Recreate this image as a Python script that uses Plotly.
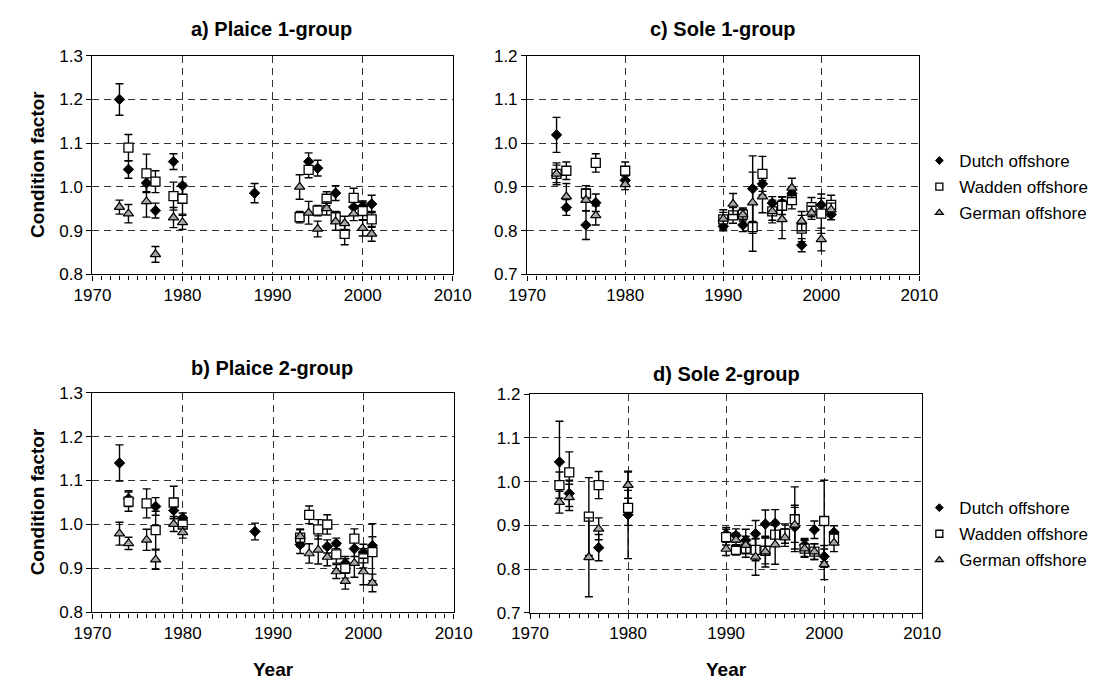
import plotly.graph_objects as go

# ---------------- data ----------------
SERIES = ["Dutch offshore", "Wadden offshore", "German offshore"]
X_TICKS = [1970, 1980, 1990, 2000, 2010]

# a) Plaice 1-group
a_dutch_years = [1973, 1974, 1976, 1977, 1979, 1980, 1988, 1994, 1995, 1997, 1999, 2000, 2001]
a_dutch_vals = [1.200, 1.040, 1.009, 0.946, 1.058, 1.003, 0.986, 1.058, 1.043, 0.986, 0.954, 0.956, 0.961]
a_dutch_err = [0.036, 0.020, 0.020, 0.017, 0.018, 0.020, 0.022, 0.020, 0.018, 0.017, 0.015, 0.012, 0.020]
a_wadden_years = [1974, 1976, 1977, 1979, 1980, 1993, 1994, 1995, 1996, 1997, 1998, 1999, 2000, 2001]
a_wadden_vals = [1.090, 1.031, 1.012, 0.979, 0.973, 0.931, 1.039, 0.946, 0.973, 0.932, 0.893, 0.975, 0.945, 0.926]
a_wadden_err = [0.030, 0.044, 0.025, 0.032, 0.035, 0.013, 0.018, 0.012, 0.016, 0.012, 0.025, 0.022, 0.020, 0.018]
a_german_years = [1973, 1974, 1976, 1977, 1979, 1980, 1993, 1994, 1995, 1996, 1997, 1998, 1999, 2000, 2001]
a_german_vals = [0.954, 0.939, 0.967, 0.846, 0.930, 0.919, 1.000, 0.941, 0.904, 0.951, 0.921, 0.917, 0.939, 0.906, 0.893]
a_german_err = [0.016, 0.021, 0.036, 0.018, 0.023, 0.016, 0.028, 0.026, 0.018, 0.015, 0.020, 0.016, 0.016, 0.018, 0.017]

# c) Sole 1-group
c_dutch_years = [1973, 1974, 1976, 1977, 1980, 1990, 1992, 1993, 1994, 1995, 1996, 1997, 1998, 2000, 2001]
c_dutch_vals = [1.019, 0.853, 0.813, 0.864, 0.915, 0.810, 0.813, 0.896, 0.907, 0.863, 0.863, 0.885, 0.767, 0.859, 0.837]
c_dutch_err = [0.040, 0.018, 0.033, 0.020, 0.010, 0.010, 0.015, 0.075, 0.025, 0.015, 0.015, 0.015, 0.015, 0.015, 0.012]
c_wadden_years = [1973, 1974, 1976, 1977, 1980, 1990, 1991, 1992, 1993, 1994, 1995, 1996, 1997, 1998, 1999, 2000, 2001]
c_wadden_vals = [0.930, 0.937, 0.885, 0.955, 0.937, 0.826, 0.835, 0.837, 0.808, 0.930, 0.844, 0.857, 0.870, 0.805, 0.854, 0.839, 0.859]
c_wadden_err = [0.025, 0.020, 0.018, 0.021, 0.020, 0.022, 0.018, 0.012, 0.055, 0.040, 0.020, 0.020, 0.020, 0.030, 0.022, 0.045, 0.022]
c_german_years = [1973, 1974, 1976, 1977, 1980, 1990, 1991, 1992, 1993, 1994, 1995, 1996, 1997, 1998, 1999, 2000, 2001]
c_german_vals = [0.930, 0.878, 0.870, 0.835, 0.906, 0.827, 0.861, 0.837, 0.864, 0.878, 0.844, 0.826, 0.898, 0.822, 0.841, 0.780, 0.848]
c_german_err = [0.020, 0.030, 0.025, 0.022, 0.012, 0.015, 0.024, 0.015, 0.070, 0.037, 0.026, 0.044, 0.022, 0.022, 0.015, 0.026, 0.015]

# b) Plaice 2-group
b_dutch_years = [1973, 1974, 1977, 1979, 1980, 1988, 1993, 1996, 1997, 1998, 1999, 2000, 2001]
b_dutch_vals = [1.140, 1.059, 1.041, 1.032, 1.015, 0.984, 0.954, 0.950, 0.957, 0.912, 0.945, 0.937, 0.952]
b_dutch_err = [0.041, 0.018, 0.020, 0.018, 0.011, 0.019, 0.020, 0.015, 0.012, 0.015, 0.018, 0.018, 0.020]
b_wadden_years = [1974, 1976, 1977, 1979, 1980, 1993, 1994, 1995, 1996, 1997, 1998, 1999, 2000, 2001]
b_wadden_vals = [1.052, 1.048, 0.987, 1.050, 1.000, 0.970, 1.022, 0.989, 1.000, 0.932, 0.900, 0.968, 0.923, 0.937]
b_wadden_err = [0.022, 0.033, 0.043, 0.037, 0.018, 0.020, 0.020, 0.022, 0.022, 0.020, 0.022, 0.022, 0.022, 0.065]
b_german_years = [1973, 1974, 1976, 1977, 1979, 1980, 1993, 1994, 1995, 1996, 1997, 1998, 1999, 2000, 2001]
b_german_vals = [0.979, 0.957, 0.965, 0.920, 1.001, 0.982, 0.973, 0.934, 0.942, 0.926, 0.893, 0.871, 0.912, 0.893, 0.867]
b_german_err = [0.026, 0.014, 0.024, 0.022, 0.017, 0.013, 0.015, 0.022, 0.032, 0.020, 0.016, 0.018, 0.032, 0.030, 0.020]

# d) Sole 2-group
d_dutch_years = [1973, 1974, 1977, 1980, 1990, 1991, 1992, 1993, 1994, 1995, 1997, 1998, 1999, 2000, 2001]
d_dutch_vals = [1.045, 0.973, 0.849, 0.924, 0.880, 0.877, 0.866, 0.881, 0.903, 0.905, 0.896, 0.855, 0.890, 0.829, 0.884]
d_dutch_err = [0.093, 0.030, 0.030, 0.100, 0.015, 0.015, 0.025, 0.030, 0.032, 0.031, 0.050, 0.015, 0.020, 0.025, 0.015]
d_wadden_years = [1973, 1974, 1976, 1977, 1980, 1990, 1991, 1992, 1993, 1994, 1995, 1996, 1997, 1998, 1999, 2000, 2001]
d_wadden_vals = [0.992, 1.021, 0.920, 0.992, 0.940, 0.873, 0.844, 0.847, 0.844, 0.842, 0.879, 0.881, 0.914, 0.847, 0.840, 0.910, 0.871]
d_wadden_err = [0.030, 0.047, 0.089, 0.031, 0.040, 0.018, 0.012, 0.020, 0.025, 0.030, 0.025, 0.022, 0.074, 0.020, 0.018, 0.093, 0.015]
d_german_years = [1973, 1974, 1976, 1977, 1980, 1990, 1991, 1992, 1993, 1994, 1995, 1996, 1997, 1998, 1999, 2000, 2001]
d_german_vals = [0.953, 0.964, 0.827, 0.892, 0.992, 0.846, 0.867, 0.855, 0.828, 0.840, 0.856, 0.872, 0.901, 0.847, 0.840, 0.811, 0.860]
d_german_err = [0.025, 0.030, 0.090, 0.025, 0.030, 0.015, 0.015, 0.020, 0.042, 0.035, 0.045, 0.020, 0.040, 0.018, 0.018, 0.035, 0.020]

# ---------------- figure ----------------
W, H = 1119, 689
FONT = "Liberation Sans, Arial, sans-serif"
TICK_SIZE = 17

MARKERS = {
    "Dutch offshore": dict(symbol="diamond", size=8, color="black", line=dict(color="black", width=1)),
    "Wadden offshore": dict(symbol="square", size=9, color="white", line=dict(color="black", width=1.3)),
    "German offshore": dict(symbol="triangle-up", size=9, color="#a6a6a6", line=dict(color="black", width=1.2)),
}
LEGEND_MARKERS = {
    "Dutch offshore": dict(symbol="diamond", size=6, color="black", line=dict(color="black", width=1)),
    "Wadden offshore": dict(symbol="square", size=7, color="white", line=dict(color="black", width=1.3)),
    "German offshore": dict(symbol="triangle-up", size=7, color="#a6a6a6", line=dict(color="black", width=1.2)),
}

panels = [
    ("x", "y", [(a_dutch_years, a_dutch_vals, a_dutch_err),
                (a_wadden_years, a_wadden_vals, a_wadden_err),
                (a_german_years, a_german_vals, a_german_err)], None),
    ("x2", "y2", [(c_dutch_years, c_dutch_vals, c_dutch_err),
                  (c_wadden_years, c_wadden_vals, c_wadden_err),
                  (c_german_years, c_german_vals, c_german_err)], "legend"),
    ("x3", "y3", [(b_dutch_years, b_dutch_vals, b_dutch_err),
                  (b_wadden_years, b_wadden_vals, b_wadden_err),
                  (b_german_years, b_german_vals, b_german_err)], None),
    ("x4", "y4", [(d_dutch_years, d_dutch_vals, d_dutch_err),
                  (d_wadden_years, d_wadden_vals, d_wadden_err),
                  (d_german_years, d_german_vals, d_german_err)], "legend2"),
]

fig = go.Figure()
for xa, ya, triples, leg in panels:
    for name, (yrs, vals, errs) in zip(SERIES, triples):
        fig.add_trace(go.Scatter(
            x=yrs, y=vals, mode="markers", name=name,
            xaxis=xa, yaxis=ya,
            marker=MARKERS[name],
            error_y=dict(type="data", array=errs, visible=True,
                         color="black", thickness=1.4, width=4),
            showlegend=False,
        ))
    if leg:
        # legend entries (small symbols like the original legend)
        for name in SERIES:
            fig.add_trace(go.Scatter(
                x=[None], y=[None], mode="markers", name=name,
                xaxis=xa, yaxis=ya, marker=LEGEND_MARKERS[name],
                showlegend=True, legend=leg, legendgroup=leg + name,
            ))


def px_x(p):
    return p / W


def px_y(p):
    return 1 - p / H


def xaxis(left, right, anchor):
    return dict(
        domain=[px_x(left), px_x(right)], anchor=anchor,
        range=[1970, 2010], tickmode="array", tickvals=X_TICKS,
        ticktext=[str(t) for t in X_TICKS],
        ticks="outside", ticklen=5, tickwidth=1, tickcolor="black",
        minor=dict(dtick=1, tick0=1970, ticks="outside", ticklen=4,
                   tickwidth=1, tickcolor="black", showgrid=False),
        showgrid=True, gridcolor="#333", gridwidth=1, griddash="7px,5px",
        showline=True, linecolor="black", linewidth=1.3, mirror=True,
        zeroline=False, tickfont=dict(size=TICK_SIZE, color="black", family=FONT),
    )


def yaxis(top, bottom, anchor, lo, hi):
    vals = [round(lo + 0.1 * i, 1) for i in range(int(round((hi - lo) / 0.1)) + 1)]
    return dict(
        domain=[px_y(bottom), px_y(top)], anchor=anchor,
        range=[lo, hi], tickmode="array", tickvals=vals,
        ticktext=[f"{v:.1f}" for v in vals],
        ticks="outside", ticklen=5, tickwidth=1, tickcolor="black",
        showgrid=True, gridcolor="#333", gridwidth=1, griddash="7px,5px",
        showline=True, linecolor="black", linewidth=1.3, mirror=True,
        zeroline=False, tickfont=dict(size=TICK_SIZE, color="black", family=FONT),
    )


legend_common = dict(xanchor="left", yanchor="middle",
                     font=dict(size=17, family=FONT, color="black"),
                     bgcolor="rgba(0,0,0,0)", itemsizing="trace",
                     tracegroupgap=1, itemclick=False, itemwidth=30)

fig.update_layout(
    width=W, height=H,
    margin=dict(l=0, r=0, t=0, b=0),
    paper_bgcolor="white", plot_bgcolor="white",
    font=dict(family=FONT, color="black"),
    xaxis=xaxis(76, 449, "y"), yaxis=yaxis(48, 273, "x", 0.8, 1.3),
    xaxis2=xaxis(526, 932, "y2"), yaxis2=yaxis(48, 273, "x2", 0.7, 1.2),
    xaxis3=xaxis(76, 450, "y3"), yaxis3=yaxis(394.5, 620.5, "x3", 0.8, 1.3),
    xaxis4=xaxis(529, 935, "y4"), yaxis4=yaxis(396, 621, "x4", 0.7, 1.2),
    legend=dict(x=px_x(932), y=px_y(183), **legend_common),
    legend2=dict(x=px_x(932), y=px_y(540), **legend_common),
)

titles = [
    ("a) Plaice 1-group", 261, 21),
    ("c) Sole 1-group", 729, 21),
    ("b) Plaice 2-group", 262, 369),
    ("d) Sole 2-group", 732, 375),
]
for text, cx, cy in titles:
    fig.add_annotation(text=f"<b>{text}</b>", x=px_x(cx), y=px_y(cy),
                       xref="paper", yref="paper", showarrow=False,
                       xanchor="center", yanchor="middle",
                       font=dict(size=20, family=FONT, color="black"))

for cy in (160, 507):
    fig.add_annotation(text="<b>Condition factor</b>", x=px_x(19), y=px_y(cy),
                       xref="paper", yref="paper", showarrow=False,
                       textangle=-90, xanchor="center", yanchor="middle",
                       font=dict(size=19, family=FONT, color="black"))

for cx in (263, 732):
    fig.add_annotation(text="<b>Year</b>", x=px_x(cx), y=px_y(679),
                       xref="paper", yref="paper", showarrow=False,
                       xanchor="center", yanchor="middle",
                       font=dict(size=19, family=FONT, color="black"))

fig.write_html("out.html")
